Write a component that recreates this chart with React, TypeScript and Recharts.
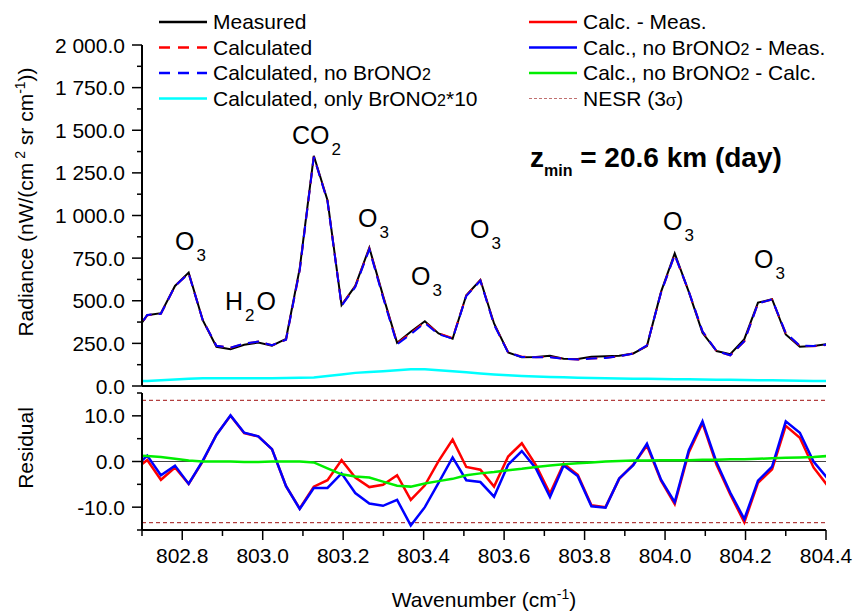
import { LineChart, Line, XAxis, YAxis, ReferenceLine } from 'recharts';

const FONT = '"Liberation Sans", Arial, Helvetica, sans-serif';

// spectral grid (cm-1), first point lies just left of the plotted window
const wavenumber = [
  802.678, 802.713, 802.747, 802.782, 802.816, 802.851, 802.885, 802.920, 802.954, 802.989,
  803.023, 803.058, 803.092, 803.127, 803.161, 803.196, 803.230, 803.265, 803.299, 803.334,
  803.368, 803.403, 803.437, 803.472, 803.506, 803.541, 803.575, 803.610, 803.644, 803.679,
  803.714, 803.748, 803.783, 803.817, 803.852, 803.886, 803.921, 803.955, 803.990, 804.024,
  804.059, 804.093, 804.128, 804.162, 804.197, 804.231, 804.266, 804.300, 804.335, 804.369,
  804.404,
];

const measured = [
  300, 415, 427, 587, 665, 386, 230, 215, 242, 255,
  236, 277, 690, 1350, 1090, 474, 587, 811, 530, 253,
  318, 380, 308, 277, 532, 622, 367, 197, 168, 170,
  177, 160, 158, 171, 175, 178, 191, 234, 552, 778,
  552, 312, 205, 187, 275, 489, 509, 302, 230, 234,
  246,
];

const calculated = [
  297.9, 415.3, 423.0, 585.7, 660.1, 386.0, 235.9, 225.0, 248.2, 260.5,
  238.7, 271.6, 679.7, 1344.5, 1085.9, 474.3, 583.5, 805.4, 524.9, 250.0,
  309.6, 374.8, 308.1, 281.8, 530.8, 620.2, 361.5, 198.1, 172.0, 169.2,
  170.0, 159.5, 155.1, 161.4, 165.0, 174.2, 190.3, 237.5, 547.8, 768.7,
  554.0, 320.4, 204.3, 179.8, 261.7, 484.3, 507.3, 309.8, 235.2, 232.7,
  240.7,
];

const calcNoBrONO2 = [
  298.4, 416.3, 424.0, 586.1, 660.1, 386.2, 235.8, 225.1, 248.3, 260.5,
  238.7, 271.6, 679.6, 1344.2, 1084.2, 471.4, 580.1, 801.8, 520.3, 244.6,
  304.0, 370.0, 303.3, 277.9, 527.9, 617.5, 359.3, 196.3, 170.3, 168.5,
  169.2, 159.1, 154.8, 161.2, 164.9, 174.3, 190.2, 237.9, 548.0, 769.1,
  554.5, 320.8, 204.8, 180.2, 262.4, 484.8, 507.9, 310.8, 236.3, 234.0,
  242.3,
];

const onlyBrONO2x10 = [
  28, 30, 34, 38, 42, 45, 46, 46, 46, 46,
  46, 47, 48, 50, 58, 68, 77, 82, 87, 93,
  98, 98, 93, 86, 80, 74, 68, 63, 59, 56,
  53, 51, 49, 47, 45, 44, 43, 42, 41, 40,
  39, 38, 37, 36, 35, 34, 33, 32, 31, 30,
  29,
];

const calcMinusMeas = [
  -2.1, 0.3, -4.0, -1.3, -4.9, 0.0, 5.9, 10.0, 6.2, 5.5,
  2.7, -5.4, -10.3, -5.5, -4.1, 0.3, -3.5, -5.6, -5.1, -3.0,
  -8.4, -5.2, 0.1, 4.8, -1.2, -1.8, -5.5, 1.1, 4.0, -0.8,
  -7.0, -0.5, -2.9, -9.6, -10.0, -3.8, -0.7, 3.5, -4.2, -9.3,
  2.0, 8.4, -0.7, -7.2, -13.3, -4.7, -1.7, 7.8, 5.2, -1.3,
  -5.3,
];

const noBrMinusMeas = [
  -1.6, 1.3, -3.0, -0.9, -4.9, 0.2, 5.8, 10.1, 6.3, 5.5,
  2.7, -5.4, -10.4, -5.8, -5.8, -2.6, -6.9, -9.2, -9.7, -8.4,
  -14.0, -10.0, -4.7, 0.9, -4.1, -4.5, -7.7, -0.7, 2.3, -1.5,
  -7.8, -0.9, -3.2, -9.8, -10.1, -3.7, -0.8, 3.9, -4.0, -8.9,
  2.5, 8.8, -0.2, -6.8, -12.6, -4.2, -1.1, 8.8, 6.3, 0.0,
  -3.7,
];

const noBrMinusCalc = [
  1.3, 1.2, 1.0, 0.6, 0.2, 0.0, 0.0, 0.0, -0.1, -0.1,
  0.0, 0.0, 0.0, -0.2, -1.5, -2.8, -3.3, -3.5, -4.4, -5.3,
  -5.5, -4.8, -4.3, -3.8, -3.0, -2.6, -2.3, -1.9, -1.6, -1.2,
  -0.9, -0.6, -0.4, -0.2, 0.0, 0.1, 0.2, 0.2, 0.3, 0.3,
  0.3, 0.4, 0.4, 0.5, 0.5, 0.6, 0.7, 0.8, 0.9, 1.0,
  1.2,
];

const nesr3sigma = 13.4;

const radianceTicks = [0, 125, 250, 375, 500, 625, 750, 875, 1000, 1125, 1250, 1375, 1500, 1625, 1750, 1875, 2000];
const residualTicks = [-15, -10, -5, 0, 5, 10, 15];
const wavenumberTicks = [802.7, 802.8, 802.9, 803.0, 803.1, 803.2, 803.3, 803.4, 803.5, 803.6, 803.7, 803.8, 803.9, 804.0, 804.1, 804.2, 804.3, 804.4];

const spectrum = wavenumber.map((wn, i) => ({
  wn,
  measured: measured[i],
  calculated: calculated[i],
  noBr: calcNoBrONO2[i],
  onlyBr: onlyBrONO2x10[i],
}));

const residuals = wavenumber.map((wn, i) => ({
  wn,
  cm: calcMinusMeas[i],
  nm: noBrMinusMeas[i],
  nc: noBrMinusCalc[i],
}));

const fmtRadiance = (v: number) => {
  const [i, d] = v.toFixed(1).split('.');
  return i.replace(/\B(?=(\d{3})+(?!\d))/g, ' ') + '.' + d;
};

// tick renderers: tickSize=0 and tickMargin=0, so x/y is the axis position
const leftTick = (isMajor: (v: number) => boolean, fmt: (v: number) => string) => (props: any) => {
  const { x, y, payload } = props;
  const major = isMajor(payload.value);
  return (
    <g>
      <line x1={x} x2={x - (major ? 10 : 5)} y1={y} y2={y} stroke="#000" strokeWidth={1.5} />
      {major && (
        <text x={x - 17} y={y} dy="0.36em" textAnchor="end" fontSize={21} fontFamily={FONT} fill="#000">
          {fmt(payload.value)}
        </text>
      )}
    </g>
  );
};

const bottomTick = (props: any) => {
  const { x, y, payload } = props;
  const major = Math.round(payload.value * 10) % 2 === 0;
  return (
    <g>
      <line x1={x} x2={x} y1={y} y2={y + (major ? 10 : 6)} stroke="#000" strokeWidth={1.5} />
      {major && (
        <text x={x} y={y + 33} textAnchor="middle" fontSize={21} fontFamily={FONT} fill="#000">
          {payload.value.toFixed(1)}
        </text>
      )}
    </g>
  );
};

const legendLeft = [
  { label: 'Measured', color: '#000000', dash: undefined },
  { label: 'Calculated', color: '#ff0000', dash: '11 8' },
  { label: 'Calculated, no BrONO', sub: '2', color: '#0000ff', dash: '11 8' },
  { label: 'Calculated, only BrONO', sub: '2', tail: '*10', color: '#00ffff', dash: undefined },
];

const Annot = ({ x, y, parts }: { x: number; y: number; parts: [string, string][] }) => (
  <text x={x} y={y} fontSize={25} fontFamily={FONT} fill="#000">
    {parts.map(([main, sub], i) => (
      <tspan key={i}>
        <tspan dy={i === 0 ? 0 : -11} dx={i === 0 ? 0 : 2}>{main}</tspan>
        {sub && <tspan dx={2} dy={11} fontSize={17}>{sub}</tspan>}
      </tspan>
    ))}
  </text>
);

export default function App() {
  return (
    <div style={{ position: 'absolute', left: 0, top: 0, width: 856, height: 612, background: '#fff' }}>
      <div style={{ position: 'absolute', left: 0, top: 0 }}>
        <LineChart width={856} height={400} data={spectrum} margin={{ top: 45, right: 30, bottom: 13, left: 0 }}>
          <XAxis
            dataKey="wn"
            type="number"
            domain={[802.7, 804.4]}
            allowDataOverflow
            tick={false}
            tickLine={false}
            height={1}
            axisLine={{ stroke: '#000', strokeWidth: 2 }}
          />
          <YAxis
            type="number"
            domain={[0, 2000]}
            ticks={radianceTicks}
            interval={0}
            width={142}
            tickSize={0}
            tickMargin={0}
            tickLine={false}
            axisLine={{ stroke: '#000', strokeWidth: 2 }}
            tick={leftTick((v) => v % 250 === 0, fmtRadiance)}
          />
          <Line dataKey="onlyBr" stroke="#00ffff" strokeWidth={2.5} dot={false} isAnimationActive={false} />
          <Line dataKey="measured" stroke="#000000" strokeWidth={2} dot={false} isAnimationActive={false} />
          <Line dataKey="calculated" stroke="#ff0000" strokeWidth={2} strokeDasharray="11 7" dot={false} isAnimationActive={false} />
          <Line dataKey="noBr" stroke="#0000ff" strokeWidth={2} strokeDasharray="11 7" dot={false} isAnimationActive={false} />
        </LineChart>
      </div>

      <div style={{ position: 'absolute', left: 0, top: 0 }}>
        <LineChart width={856} height={612} data={residuals} margin={{ top: 393, right: 30, bottom: 0, left: 0 }}>
          <XAxis
            dataKey="wn"
            type="number"
            domain={[802.7, 804.4]}
            allowDataOverflow
            ticks={wavenumberTicks}
            interval={0}
            height={82}
            tickSize={0}
            tickMargin={0}
            tickLine={false}
            axisLine={{ stroke: '#000', strokeWidth: 2 }}
            tick={bottomTick}
          />
          <YAxis
            type="number"
            domain={[-15, 15]}
            ticks={residualTicks}
            interval={0}
            width={142}
            tickSize={0}
            tickMargin={0}
            tickLine={false}
            axisLine={{ stroke: '#000', strokeWidth: 2 }}
            tick={leftTick((v) => v % 10 === 0, (v) => v.toFixed(1))}
          />
          <ReferenceLine y={0} stroke="#444" strokeWidth={1} />
          <ReferenceLine y={nesr3sigma} stroke="#a01010" strokeWidth={1} strokeDasharray="4 3" />
          <ReferenceLine y={-nesr3sigma} stroke="#a01010" strokeWidth={1} strokeDasharray="4 3" />
          <Line dataKey="cm" stroke="#ff0000" strokeWidth={2.5} dot={false} isAnimationActive={false} />
          <Line dataKey="nm" stroke="#0000ff" strokeWidth={2.5} dot={false} isAnimationActive={false} />
          <Line dataKey="nc" stroke="#00ee00" strokeWidth={2.5} dot={false} isAnimationActive={false} />
        </LineChart>
      </div>

      <svg width={856} height={612} style={{ position: 'absolute', left: 0, top: 0, pointerEvents: 'none' }} fontFamily={FONT}>
        {/* legend, left column */}
        {legendLeft.map((it, i) => {
          const cy = 22 + i * 25.5;
          return (
            <g key={it.label}>
              <line x1={159} x2={207} y1={cy} y2={cy} stroke={it.color} strokeWidth={2.5} strokeDasharray={it.dash} />
              <text x={213} y={cy + 7} fontSize={21} fill="#000">
                {it.label}
                {it.sub && <tspan fontSize={16}>{it.sub}</tspan>}
                {it.tail}
              </text>
            </g>
          );
        })}
        {/* legend, right column */}
        <g>
          <line x1={529} x2={577} y1={22} y2={22} stroke="#ff0000" strokeWidth={2.5} />
          <text x={583} y={29} fontSize={21}>Calc. - Meas.</text>
          <line x1={529} x2={577} y1={47.5} y2={47.5} stroke="#0000ff" strokeWidth={2.5} />
          <text x={583} y={54.5} fontSize={21}>Calc., no BrONO<tspan fontSize={16}>2</tspan> - Meas.</text>
          <line x1={529} x2={577} y1={73} y2={73} stroke="#00ee00" strokeWidth={2.5} />
          <text x={583} y={80} fontSize={21}>Calc., no BrONO<tspan fontSize={16}>2</tspan> - Calc.</text>
          <line x1={529} x2={577} y1={98.5} y2={98.5} stroke="#c07070" strokeWidth={1} strokeDasharray="3 2" />
          <text x={583} y={105.5} fontSize={21}>NESR (3<tspan fontSize={17}>σ</tspan>)</text>
        </g>

        {/* band labels */}
        <Annot x={175} y={250} parts={[['O', '3']]} />
        <Annot x={225} y={310} parts={[['H', '2'], ['O', '']]} />
        <Annot x={292} y={144} parts={[['CO', '2']]} />
        <Annot x={358} y={227} parts={[['O', '3']]} />
        <Annot x={411} y={285} parts={[['O', '3']]} />
        <Annot x={470} y={238} parts={[['O', '3']]} />
        <Annot x={663} y={230} parts={[['O', '3']]} />
        <Annot x={754} y={268} parts={[['O', '3']]} />

        <text x={530} y={167} fontSize={28} fontWeight="bold" fill="#000">
          z<tspan dy={9} fontSize={16}>min</tspan>
          <tspan dy={-9}> = 20.6 km (day)</tspan>
        </text>

        {/* axis titles */}
        <text transform="translate(33,202) rotate(-90)" textAnchor="middle" fontSize={21} fill="#000">
          Radiance (nW/(cm<tspan dy={-8} fontSize={14}> 2</tspan>
          <tspan dy={8}> sr cm</tspan>
          <tspan dy={-8} fontSize={14}>-1</tspan>
          <tspan dy={8}>))</tspan>
        </text>
        <text transform="translate(33,448) rotate(-90)" textAnchor="middle" fontSize={21} fill="#000">
          Residual
        </text>
        <text x={484} y={607} textAnchor="middle" fontSize={21} fill="#000">
          Wavenumber (cm<tspan dy={-8} fontSize={14}>-1</tspan>
          <tspan dy={8}>)</tspan>
        </text>
      </svg>
    </div>
  );
}
